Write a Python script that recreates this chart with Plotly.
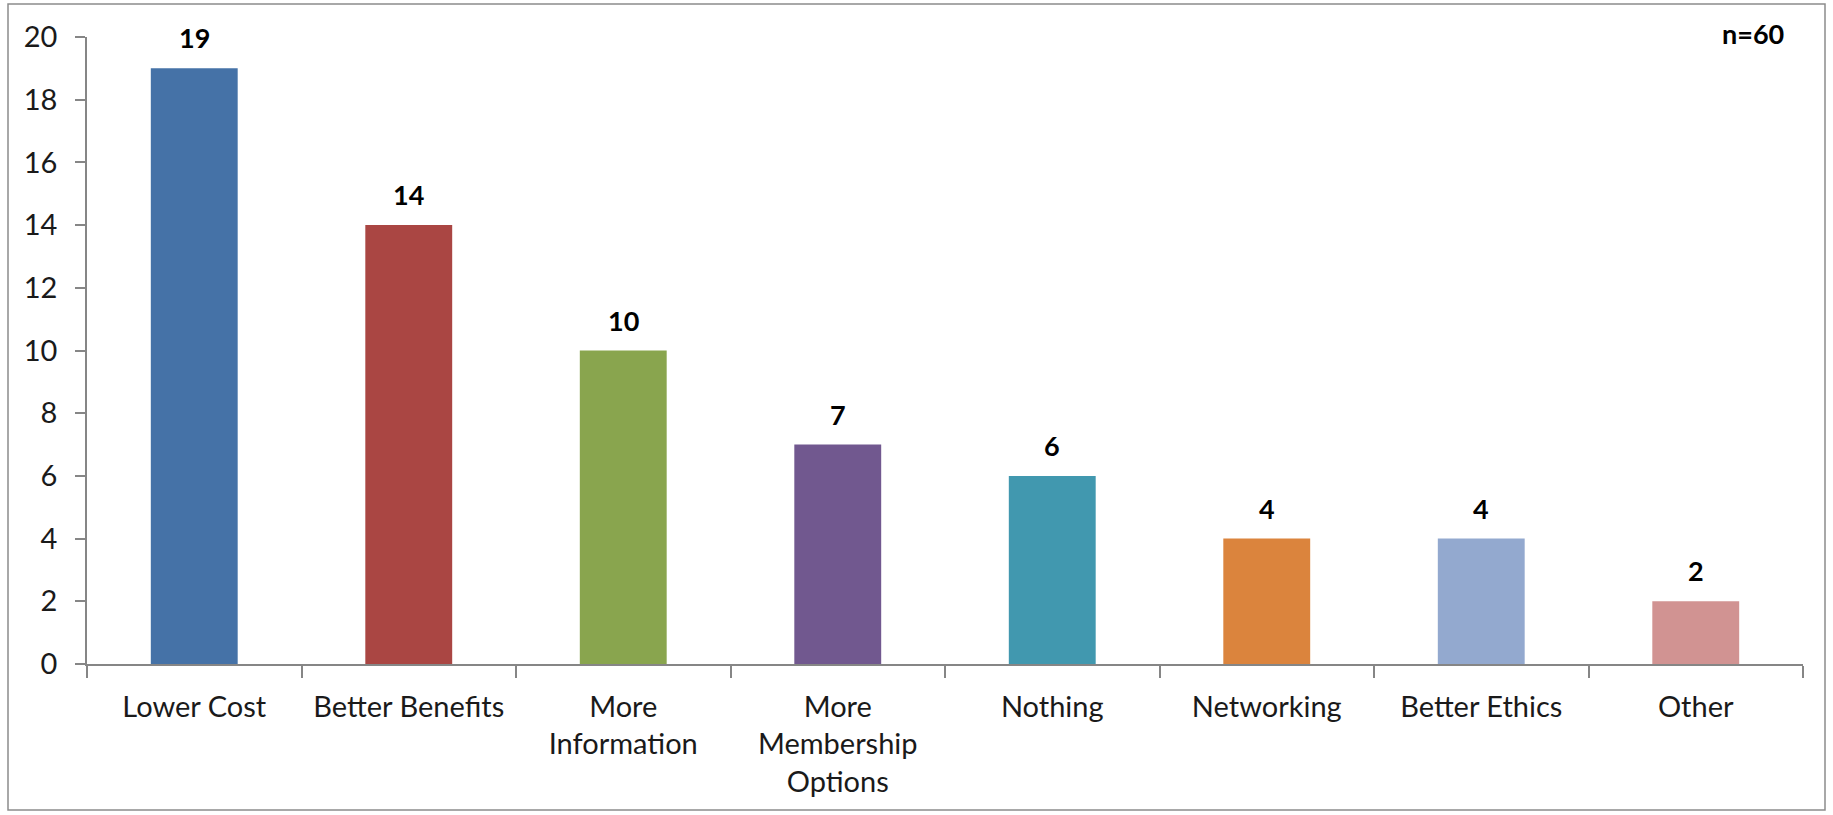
import plotly.graph_objects as go

categories = ["Lower Cost", "Better Benefits", "More<br>Information",
              "More<br>Membership<br>Options", "Nothing", "Networking",
              "Better Ethics", "Other"]
counts = [19, 14, 10, 7, 6, 4, 4, 2]
bar_colors = ["#4572A7", "#AA4643", "#89A54E", "#71588F",
              "#4198AF", "#DB843D", "#93A9CF", "#D19392"]
y_ticks = [0, 2, 4, 6, 8, 10, 12, 14, 16, 18, 20]
sample_note = "n=60"

FONT = "Lato"
AXIS = "#868686"
TEXT = "#1a1a1a"

fig = go.Figure()
fig.add_trace(go.Bar(
    x=categories, y=counts,
    marker=dict(color=bar_colors, line=dict(width=0)),
    width=0.405,
    hoverinfo="x+y",
))

# value labels above each bar
for cat, val in zip(categories, counts):
    fig.add_annotation(
        x=cat, y=val, text=f"<b>{val}</b>", showarrow=False,
        yanchor="bottom", yshift=12,
        font=dict(family=FONT, size=27, color="#000000"),
    )

fig.add_annotation(
    xref="paper", yref="paper", x=0.99, y=1.005, xanchor="right", yanchor="middle",
    text=f"<b>{sample_note}</b>", showarrow=False,
    font=dict(family=FONT, size=27, color="#000000"),
)

# outer chart frame
fig.add_shape(
    type="rect", xref="paper", yref="paper",
    x0=(8 - 87) / 1716, x1=(1825 - 87) / 1716,
    y0=(664 - 810) / 627, y1=(664 - 4) / 627,
    line=dict(color="#8c8c8c", width=1.5), fillcolor="rgba(0,0,0,0)", layer="below",
)

fig.update_layout(
    width=1833, height=815,
    margin=dict(l=87, r=30, t=37, b=151),
    paper_bgcolor="white", plot_bgcolor="white",
    showlegend=False,
    font=dict(family=FONT, size=29, color=TEXT),
)
fig.update_xaxes(
    type="category", tickson="boundaries",
    showline=True, linecolor=AXIS, linewidth=1.5,
    ticks="outside", ticklen=12, tickcolor=AXIS, tickwidth=1.5,
    ticklabelstandoff=16,
    showgrid=False, zeroline=False,
    tickfont=dict(family=FONT, size=29, color=TEXT),
)
fig.update_yaxes(
    range=[0, 20], tickvals=y_ticks,
    showline=True, linecolor=AXIS, linewidth=1.5,
    ticks="outside", ticklen=10, tickcolor=AXIS, tickwidth=1.5,
    ticklabelstandoff=12,
    showgrid=False, zeroline=False,
    tickfont=dict(family=FONT, size=29, color=TEXT),
)

fig.write_html("out.html")
